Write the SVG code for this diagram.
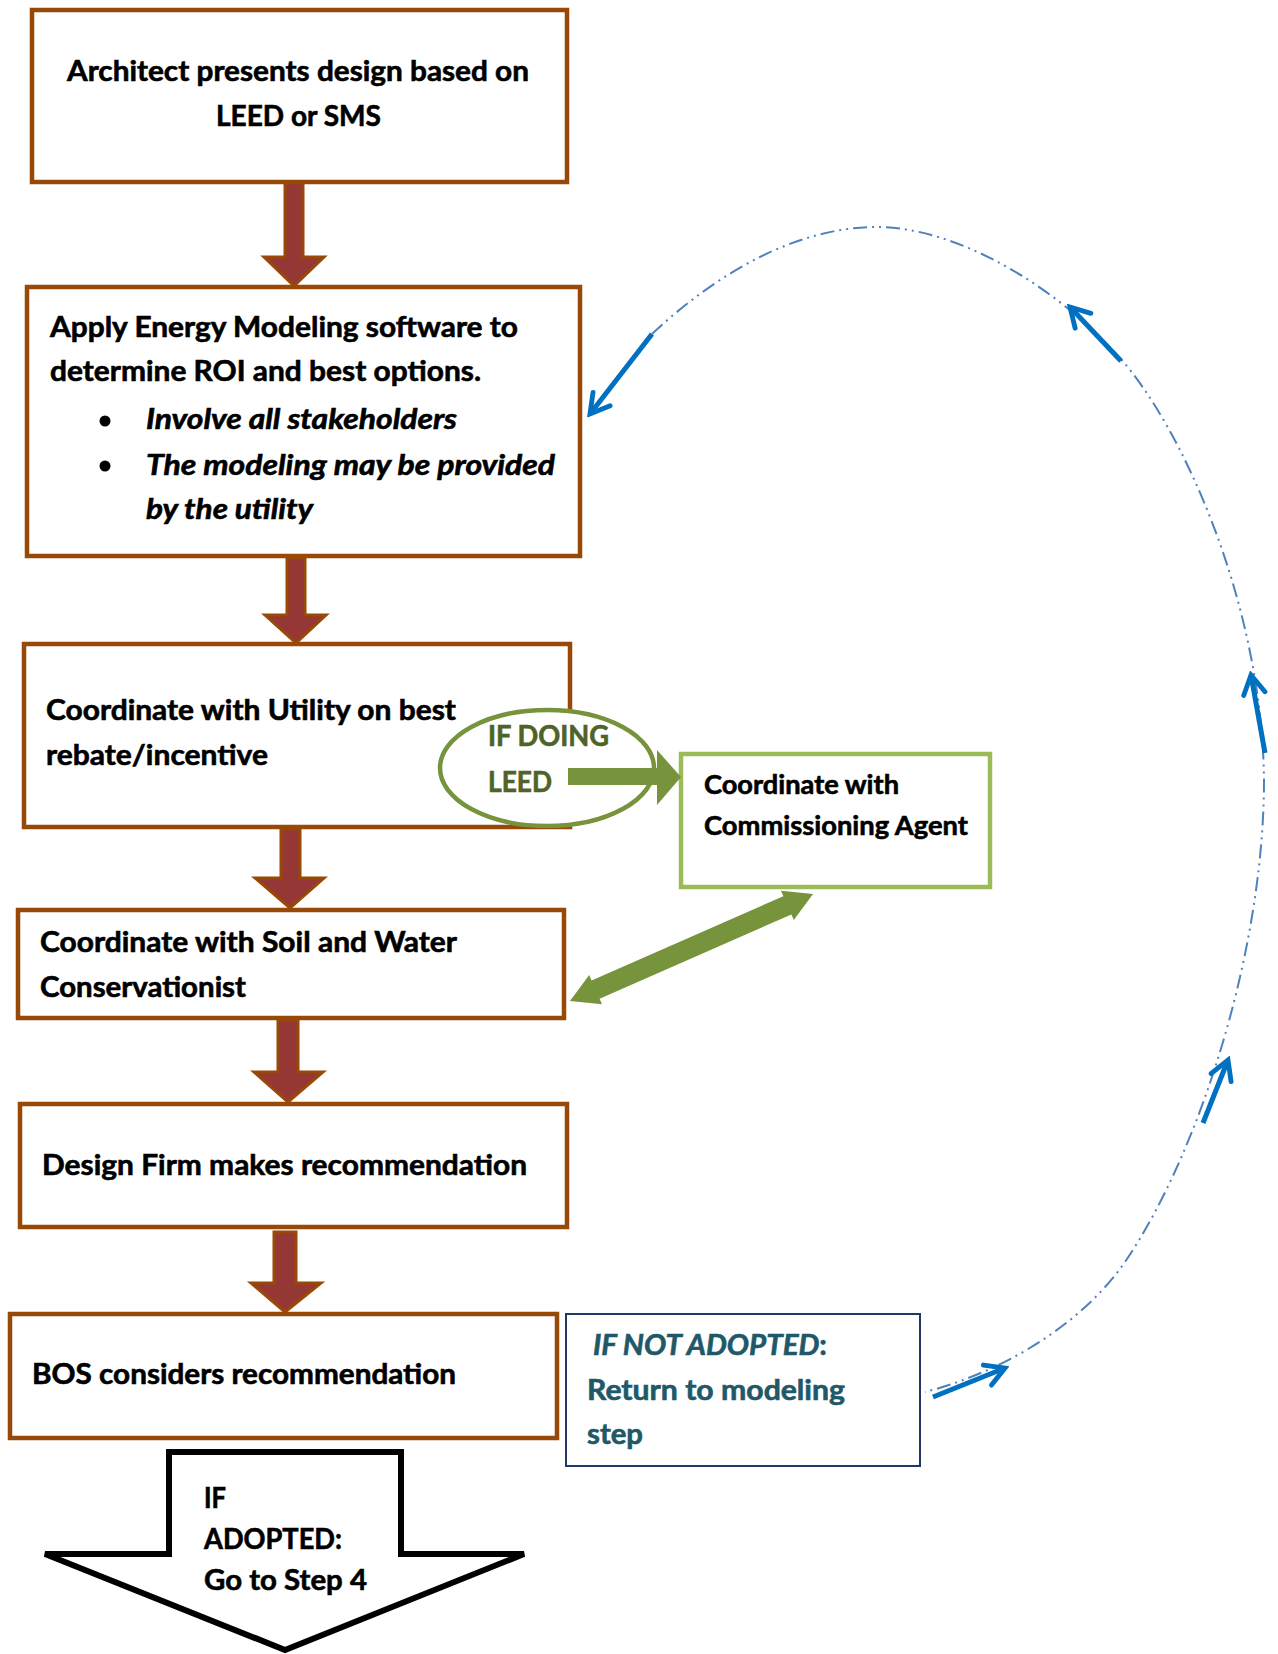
<svg xmlns="http://www.w3.org/2000/svg" width="1278" height="1654" viewBox="0 0 1278 1654">
<defs>
<style>
.box{fill:#fff;stroke:#984807;stroke-width:4.5}
.t{font-family:Lato,'Liberation Sans',sans-serif;font-weight:700;font-size:28px;fill:#000;stroke:#000;stroke-width:0.6}
.s{font-size:26.5px}
.i{font-style:italic}
.g{fill:#4F6228;stroke:#4F6228}
.teal{fill:#215868;stroke:#215868}
.brn{fill:#953735;stroke:#984807;stroke-width:3;stroke-linejoin:miter}
.grn{fill:#77933C}
.loop{fill:none;stroke:#4F81BD;stroke-width:2;stroke-dasharray:14 5 2 5 2 5}
.barr{fill:none;stroke:#0070C0;stroke-width:5;stroke-linecap:butt}
</style>
<marker id="vh" viewBox="0 0 20 20" refX="17" refY="10" markerWidth="27" markerHeight="27" markerUnits="userSpaceOnUse" orient="auto">
<path d="M3,2 L17,10 L3,18" fill="none" stroke="#0070C0" stroke-width="3.6" stroke-linecap="round" stroke-linejoin="miter"/>
</marker>
</defs>
<rect width="1278" height="1654" fill="#fff"/>

<g id="n1">
<rect class="box" x="32" y="10" width="535" height="172"/>
<text class="t" x="67" y="81" textLength="462" lengthAdjust="spacingAndGlyphs">Architect presents design based on</text>
<text class="t" x="216" y="126" textLength="165" lengthAdjust="spacingAndGlyphs">LEED or SMS</text>
</g>

<g id="n2">
<rect class="box" x="27" y="287" width="553" height="269"/>
<text class="t" x="50" y="337" textLength="468" lengthAdjust="spacingAndGlyphs">Apply Energy Modeling software to</text>
<text class="t" x="50" y="381" textLength="431" lengthAdjust="spacingAndGlyphs">determine ROI and best options.</text>
<circle cx="105" cy="421" r="5.5" fill="#000"/>
<circle cx="105" cy="466" r="5.5" fill="#000"/>
<text class="t i" x="146" y="429" textLength="311" lengthAdjust="spacingAndGlyphs">Involve all stakeholders</text>
<text class="t i" x="146" y="475" textLength="409" lengthAdjust="spacingAndGlyphs">The modeling may be provided</text>
<text class="t i" x="146" y="519" textLength="167" lengthAdjust="spacingAndGlyphs">by the utility</text>
</g>

<g id="n3">
<rect class="box" x="24" y="644" width="546" height="183"/>
<text class="t" x="46" y="720" textLength="410" lengthAdjust="spacingAndGlyphs">Coordinate with Utility on best</text>
<text class="t" x="46" y="765" textLength="222" lengthAdjust="spacingAndGlyphs">rebate/incentive</text>
</g>

<g id="n3b">
<ellipse cx="547" cy="768" rx="107" ry="58" fill="#fff" stroke="#77933C" stroke-width="4.5"/>
<text class="t g" x="488" y="746" textLength="121" lengthAdjust="spacingAndGlyphs">IF DOING</text>
<text class="t g" x="488" y="792" textLength="64" lengthAdjust="spacingAndGlyphs">LEED</text>
</g>

<g id="n4">
<rect x="681" y="754" width="309" height="133" fill="#fff" stroke="#9BBB59" stroke-width="4.5"/>
<text class="t s" x="704" y="794" textLength="195" lengthAdjust="spacingAndGlyphs">Coordinate with</text>
<text class="t s" x="704" y="835" textLength="264" lengthAdjust="spacingAndGlyphs">Commissioning Agent</text>
</g>

<g id="n5">
<rect class="box" x="18" y="910" width="546" height="108"/>
<text class="t" x="40" y="952" textLength="417" lengthAdjust="spacingAndGlyphs">Coordinate with Soil and Water</text>
<text class="t" x="40" y="997" textLength="206" lengthAdjust="spacingAndGlyphs">Conservationist</text>
</g>

<g id="n6">
<rect class="box" x="20" y="1104" width="547" height="123"/>
<text class="t" x="42" y="1175" textLength="485" lengthAdjust="spacingAndGlyphs">Design Firm makes recommendation</text>
</g>

<g id="n7">
<rect class="box" x="10" y="1314" width="547" height="124"/>
<text class="t" x="32" y="1384" textLength="424" lengthAdjust="spacingAndGlyphs">BOS considers recommendation</text>
</g>

<g id="n8">
<rect x="566" y="1314" width="354" height="152" fill="#fff" stroke="#1F3864" stroke-width="2"/>
<text class="t teal" x="593" y="1355" textLength="234" lengthAdjust="spacingAndGlyphs"><tspan class="i">IF NOT ADOPTED</tspan>:</text>
<text class="t teal" x="587" y="1400" textLength="258" lengthAdjust="spacingAndGlyphs">Return to modeling</text>
<text class="t teal" x="587" y="1444" textLength="56" lengthAdjust="spacingAndGlyphs">step</text>
</g>

<g id="n9">
<polygon points="169,1452 401,1452 401,1554 524,1554 285,1650 45,1554 169,1554" fill="#fff" stroke="#000" stroke-width="6"/>
<text class="t" x="204" y="1508" textLength="22" lengthAdjust="spacingAndGlyphs">IF</text>
<text class="t" x="204" y="1549" textLength="138" lengthAdjust="spacingAndGlyphs">ADOPTED:</text>
<text class="t" x="204" y="1590" textLength="163" lengthAdjust="spacingAndGlyphs">Go to Step 4</text>
</g>

<g id="connectors">
<polygon class="brn" points="285,183 303,183 303,257 324,257 294,286 264,257 285,257"/>
<polygon class="brn" points="287,558 305,558 305,615 326,615 296,643 265,615 287,615"/>
<polygon class="brn" points="281,829 300,829 300,878 324,878 290,908 255,878 281,878"/>
<polygon class="brn" points="278,1020 298,1020 298,1072 323,1072 288,1102 254,1072 278,1072"/>
<polygon class="brn" points="274,1232 296,1232 296,1283 321,1283 285,1312 251,1283 274,1283"/>
<polygon class="grn" points="568,768 657,768 657,750 681,777 657,805 657,785 568,785"/>
<polygon class="grn" points="570,1001 602,1004.3 599.6,998.8 791.4,914.4 793.8,919.9 813,894 781,890.7 783.4,896.2 591.6,980.6 589.2,975.1"/>
<path class="loop" d="M652,334 C720,270 800,227 876,227 C960,227 1060,290 1120,358 C1180,425 1262,600 1264,780 C1264,950 1200,1150 1127,1259 C1087,1319 1010,1370 925,1392"/>
<line class="barr" x1="652" y1="334" x2="590" y2="414" marker-end="url(#vh)"/>
<line class="barr" x1="1121" y1="361" x2="1070" y2="307" marker-end="url(#vh)"/>
<line class="barr" x1="1265" y1="753" x2="1251" y2="675" marker-end="url(#vh)"/>
<line class="barr" x1="1203" y1="1123" x2="1228" y2="1060" marker-end="url(#vh)"/>
<line class="barr" x1="933" y1="1397" x2="1005" y2="1368" marker-end="url(#vh)"/>
</g>
</svg>
